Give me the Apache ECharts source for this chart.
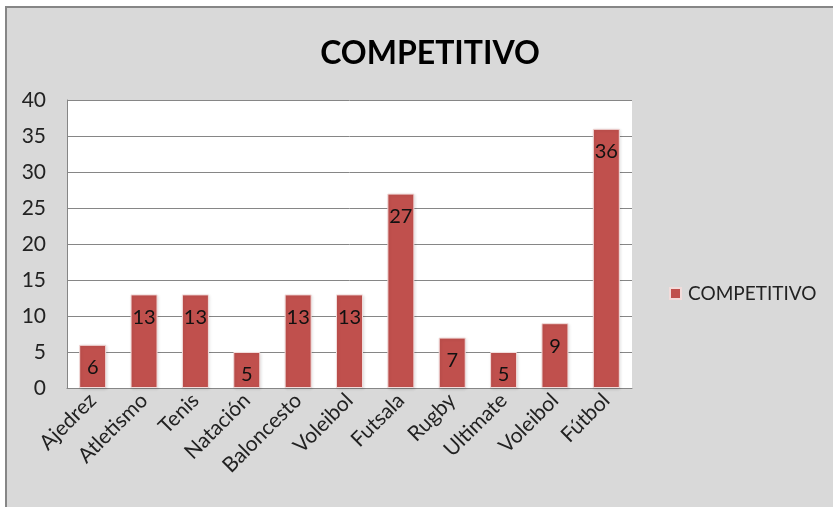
<!DOCTYPE html>
<html>
<head>
<meta charset="utf-8">
<script src="https://cdn.jsdelivr.net/npm/echarts@6/dist/echarts.min.js"></script>
<style>
html,body{margin:0;padding:0;background:#fff;}
#c{width:833px;height:507px;}
</style>
</head>
<body>
<div id="c"></div>
<script>
const categories = ['Ajedrez','Atletismo','Tenis','Natación','Baloncesto','Voleibol','Futsala','Rugby','Ultimate','Voleibol','Fútbol'];
const values = [6,13,13,5,13,13,27,7,5,9,36];
const seriesName = 'COMPETITIVO';
const yTicks = {min:0, max:40, interval:5};

const chart = echarts.init(document.getElementById('c'));
const FONT = 'Lato';
chart.setOption({
  backgroundColor: '#ffffff',
  animation: false,
  graphic: [{
    type: 'rect', z: -100, silent: true,
    shape: {x: 6, y: 7, width: 900, height: 600},
    style: {fill: '#d9d9d9', stroke: '#868686', lineWidth: 2}
  }],
  title: {
    text: 'COMPETITIVO',
    left: 425, textAlign: 'center', top: 33,
    textStyle: {fontFamily: FONT, fontWeight: 'bold', fontSize: 32, color: '#000'}
  },
  legend: {
    data: [seriesName],
    left: 669, top: 284, padding: 0,
    itemWidth: 11, itemHeight: 11, itemGap: 6,
    icon: 'rect',
    textStyle: {fontFamily: FONT, fontSize: 19, color: '#222', padding: [0,0,0,2]}
  },
  grid: {
    left: 67, right: 201, top: 100, bottom: 119,
    show: true, backgroundColor: '#fff', borderColor: '#fff', borderWidth: 0
  },
  xAxis: {
    type: 'category',
    data: categories,
    axisLine: {show: true, lineStyle: {color: '#868686', width: 1}},
    axisTick: {show: false},
    axisLabel: {rotate: 45, interval: 0, margin: 9, fontFamily: FONT, fontSize: 21, color: '#222'}
  },
  yAxis: {
    type: 'value',
    min: yTicks.min, max: yTicks.max, interval: yTicks.interval,
    axisLine: {show: true, lineStyle: {color: '#868686', width: 1}},
    axisTick: {show: false},
    splitLine: {lineStyle: {color: '#868686', width: 1}},
    axisLabel: {margin: 21, fontFamily: FONT, fontSize: 21, color: '#222'}
  },
  series: [{
    name: seriesName,
    type: 'bar',
    data: values,
    barWidth: 27,
    itemStyle: {color: '#c0504d', borderColor: '#f2dcdb', borderWidth: 1,
      shadowColor: 'rgba(0,0,0,0.12)', shadowBlur: 3, shadowOffsetX: 1, shadowOffsetY: 1},
    label: {show: true, position: 'insideTop', distance: 13, fontFamily: FONT, fontSize: 20, color: '#111'}
  }]
});
</script>
</body>
</html>
